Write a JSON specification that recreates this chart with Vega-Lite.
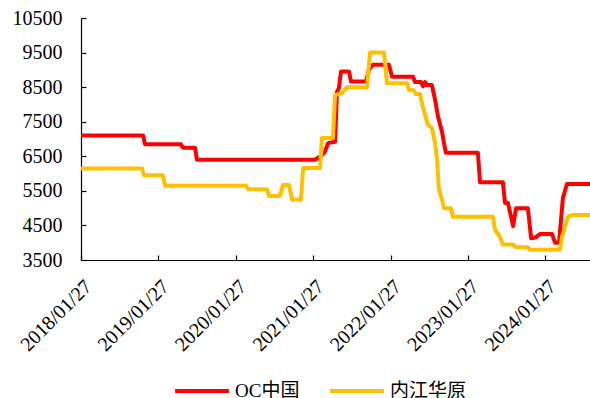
{
  "$schema": "https://vega.github.io/schema/vega-lite/v6.json",
  "width": 509,
  "height": 242,
  "autosize": "none",
  "padding": {"left": 81, "top": 18, "right": 0, "bottom": 138},
  "background": "white",
  "config": {
    "view": {"stroke": null},
    "axis": {"grid": false, "domainColor": "#000000", "tickColor": "#000000", "labelColor": "#000000", "labelFont": "Liberation Serif", "labelFontSize": 20, "domainWidth": 1.2, "tickWidth": 1.2}
  },
  "data": {
    "values": [
      {"date": "2018/01/27", "series": "OC中国", "value": 7100},
      {"date": "2018/11/16", "series": "OC中国", "value": 7100},
      {"date": "2018/11/25", "series": "OC中国", "value": 6850},
      {"date": "2019/05/14", "series": "OC中国", "value": 6850},
      {"date": "2019/05/23", "series": "OC中国", "value": 6750},
      {"date": "2019/07/19", "series": "OC中国", "value": 6750},
      {"date": "2019/07/28", "series": "OC中国", "value": 6400},
      {"date": "2021/02/04", "series": "OC中国", "value": 6400},
      {"date": "2021/02/18", "series": "OC中国", "value": 6450},
      {"date": "2021/03/09", "series": "OC中国", "value": 6540},
      {"date": "2021/03/23", "series": "OC中国", "value": 6630},
      {"date": "2021/04/07", "series": "OC中国", "value": 6880},
      {"date": "2021/05/10", "series": "OC中国", "value": 6920},
      {"date": "2021/05/19", "series": "OC中国", "value": 8370},
      {"date": "2021/05/28", "series": "OC中国", "value": 8470},
      {"date": "2021/06/07", "series": "OC中国", "value": 8950},
      {"date": "2021/07/15", "series": "OC中国", "value": 8950},
      {"date": "2021/07/24", "series": "OC中国", "value": 8660},
      {"date": "2021/10/03", "series": "OC中国", "value": 8660},
      {"date": "2021/10/17", "series": "OC中国", "value": 9000},
      {"date": "2021/11/05", "series": "OC中国", "value": 9150},
      {"date": "2022/01/19", "series": "OC中国", "value": 9150},
      {"date": "2022/02/03", "series": "OC中国", "value": 8800},
      {"date": "2022/05/13", "series": "OC中国", "value": 8800},
      {"date": "2022/05/22", "series": "OC中国", "value": 8650},
      {"date": "2022/06/19", "series": "OC中国", "value": 8650},
      {"date": "2022/06/29", "series": "OC中国", "value": 8530},
      {"date": "2022/07/08", "series": "OC中国", "value": 8650},
      {"date": "2022/07/18", "series": "OC中国", "value": 8560},
      {"date": "2022/08/10", "series": "OC中国", "value": 8560},
      {"date": "2022/08/25", "series": "OC中国", "value": 8130},
      {"date": "2022/09/08", "series": "OC中国", "value": 7640},
      {"date": "2022/09/27", "series": "OC中国", "value": 7200},
      {"date": "2022/10/06", "series": "OC中国", "value": 6880},
      {"date": "2022/10/15", "series": "OC中国", "value": 6600},
      {"date": "2023/03/15", "series": "OC中国", "value": 6600},
      {"date": "2023/03/25", "series": "OC中国", "value": 5750},
      {"date": "2023/07/11", "series": "OC中国", "value": 5750},
      {"date": "2023/07/21", "series": "OC中国", "value": 5150},
      {"date": "2023/08/04", "series": "OC中国", "value": 5150},
      {"date": "2023/08/28", "series": "OC中国", "value": 4480},
      {"date": "2023/09/11", "series": "OC中国", "value": 5000},
      {"date": "2023/11/06", "series": "OC中国", "value": 5000},
      {"date": "2023/11/21", "series": "OC中国", "value": 4130},
      {"date": "2023/12/14", "series": "OC中国", "value": 4160},
      {"date": "2024/01/02", "series": "OC中国", "value": 4250},
      {"date": "2024/02/28", "series": "OC中国", "value": 4250},
      {"date": "2024/03/13", "series": "OC中国", "value": 4000},
      {"date": "2024/04/01", "series": "OC中国", "value": 4000},
      {"date": "2024/04/19", "series": "OC中国", "value": 5290},
      {"date": "2024/05/08", "series": "OC中国", "value": 5700},
      {"date": "2024/08/25", "series": "OC中国", "value": 5700},
      {"date": "2018/01/27", "series": "内江华原", "value": 6150},
      {"date": "2018/11/11", "series": "内江华原", "value": 6150},
      {"date": "2018/11/20", "series": "内江华原", "value": 5950},
      {"date": "2019/02/18", "series": "内江华原", "value": 5950},
      {"date": "2019/02/27", "series": "内江华原", "value": 5650},
      {"date": "2020/03/16", "series": "内江华原", "value": 5650},
      {"date": "2020/03/25", "series": "内江华原", "value": 5550},
      {"date": "2020/06/23", "series": "内江华原", "value": 5550},
      {"date": "2020/07/02", "series": "内江华原", "value": 5350},
      {"date": "2020/08/23", "series": "内江华原", "value": 5350},
      {"date": "2020/09/06", "series": "内江华原", "value": 5670},
      {"date": "2020/10/05", "series": "内江华原", "value": 5670},
      {"date": "2020/10/19", "series": "内江华原", "value": 5250},
      {"date": "2020/11/30", "series": "内江华原", "value": 5250},
      {"date": "2020/12/10", "series": "内江华原", "value": 6160},
      {"date": "2021/02/28", "series": "内江华原", "value": 6160},
      {"date": "2021/03/09", "series": "内江华原", "value": 7030},
      {"date": "2021/04/30", "series": "内江华原", "value": 7030},
      {"date": "2021/05/10", "series": "内江华原", "value": 8270},
      {"date": "2021/06/12", "series": "内江华原", "value": 8330},
      {"date": "2021/07/05", "series": "内江华原", "value": 8500},
      {"date": "2021/10/08", "series": "内江华原", "value": 8500},
      {"date": "2021/10/22", "series": "内江华原", "value": 9500},
      {"date": "2021/12/27", "series": "内江华原", "value": 9500},
      {"date": "2022/01/10", "series": "内江华原", "value": 8610},
      {"date": "2022/04/14", "series": "内江华原", "value": 8610},
      {"date": "2022/04/24", "series": "内江华原", "value": 8420},
      {"date": "2022/05/13", "series": "内江华原", "value": 8420},
      {"date": "2022/05/27", "series": "内江华原", "value": 8300},
      {"date": "2022/06/15", "series": "内江华原", "value": 8300},
      {"date": "2022/06/29", "series": "内江华原", "value": 7900},
      {"date": "2022/07/23", "series": "内江华原", "value": 7400},
      {"date": "2022/08/10", "series": "内江华原", "value": 7320},
      {"date": "2022/08/25", "series": "内江华原", "value": 6880},
      {"date": "2022/09/03", "series": "内江华原", "value": 6400},
      {"date": "2022/09/12", "series": "内江华原", "value": 5530},
      {"date": "2022/09/27", "series": "内江华原", "value": 5240},
      {"date": "2022/10/06", "series": "内江华原", "value": 5000},
      {"date": "2022/11/08", "series": "内江华原", "value": 5000},
      {"date": "2022/11/17", "series": "内江华原", "value": 4750},
      {"date": "2023/05/25", "series": "内江华原", "value": 4750},
      {"date": "2023/06/04", "series": "内江华原", "value": 4370},
      {"date": "2023/06/27", "series": "内江华原", "value": 4170},
      {"date": "2023/07/11", "series": "内江华原", "value": 3950},
      {"date": "2023/08/28", "series": "内江华原", "value": 3950},
      {"date": "2023/09/11", "series": "内江华原", "value": 3870},
      {"date": "2023/11/06", "series": "内江华原", "value": 3870},
      {"date": "2023/11/16", "series": "内江华原", "value": 3800},
      {"date": "2024/04/05", "series": "内江华原", "value": 3800},
      {"date": "2024/04/15", "series": "内江华原", "value": 4170},
      {"date": "2024/04/29", "series": "内江华原", "value": 4460},
      {"date": "2024/05/13", "series": "内江华原", "value": 4750},
      {"date": "2024/06/01", "series": "内江华原", "value": 4800},
      {"date": "2024/08/25", "series": "内江华原", "value": 4800}
    ]
  },
  "mark": {"type": "line", "strokeWidth": 4, "strokeJoin": "round", "strokeCap": "butt", "clip": true},
  "encoding": {
    "x": {
      "field": "date",
      "type": "temporal",
      "scale": {"domain": [{"year": 2018, "month": 1, "date": 27}, {"year": 2024, "month": 8, "date": 25}]},
      "axis": {
        "title": null,
        "format": "%Y/%m/%d",
        "labelAngle": -45,
        "tickSize": -5,
        "labelPadding": 21,
        "labelDx": -6,
        "labelOverlap": false,
        "values": [
          {"year": 2018, "month": 1, "date": 27},
          {"year": 2019, "month": 1, "date": 27},
          {"year": 2020, "month": 1, "date": 27},
          {"year": 2021, "month": 1, "date": 27},
          {"year": 2022, "month": 1, "date": 27},
          {"year": 2023, "month": 1, "date": 27},
          {"year": 2024, "month": 1, "date": 27}
        ]
      }
    },
    "y": {
      "field": "value",
      "type": "quantitative",
      "scale": {"domain": [3500, 10500], "nice": false, "zero": false},
      "axis": {
        "title": null,
        "values": [3500, 4500, 5500, 6500, 7500, 8500, 9500, 10500],
        "format": "d",
        "tickSize": -5,
        "labelPadding": 24
      }
    },
    "color": {
      "field": "series",
      "type": "nominal",
      "sort": ["OC中国", "内江华原"],
      "scale": {"domain": ["OC中国", "内江华原"], "range": ["#FF0000", "#FFC000"]},
      "legend": {
        "title": null,
        "orient": "none",
        "legendX": 92,
        "legendY": 344,
        "direction": "horizontal",
        "symbolType": "stroke",
        "symbolSize": 2900,
        "symbolStrokeWidth": 4,
        "labelFont": "Liberation Serif, Noto Sans CJK SC",
        "labelFontSize": 19,
        "labelColor": "#000000",
        "columnPadding": 22
      }
    }
  }
}
